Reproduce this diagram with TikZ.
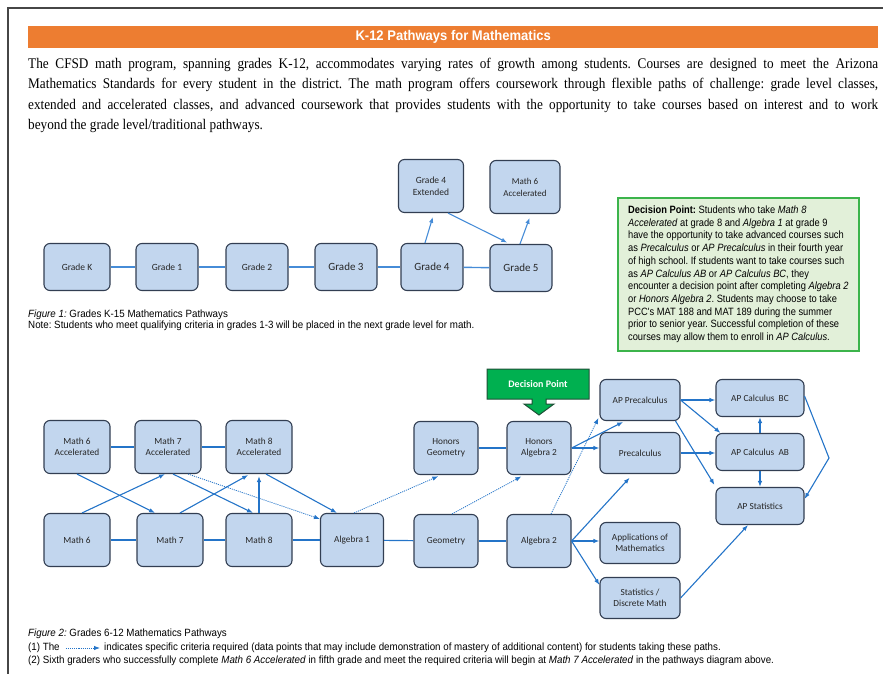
\documentclass[tikz,border=0pt]{standalone}
\usepackage{fontspec}
\setmainfont{Liberation Serif}[FakeStretch=0.9]
\newfontfamily\capfont{Liberation Sans}[FakeStretch=0.93]
\newfontfamily\narrowfont{Liberation Sans}[FakeStretch=0.88]
\newfontfamily\boxfont{Carlito}
\usetikzlibrary{arrows.meta, positioning, calc}
\definecolor{titleorange}{RGB}{237,125,49}
\definecolor{boxblue}{RGB}{194,214,238}
\definecolor{boxline}{RGB}{50,62,82}
\definecolor{lineblue}{RGB}{36,116,200}
\definecolor{lightline}{RGB}{70,140,215}
\definecolor{dpfill}{RGB}{226,240,217}
\definecolor{dpborder}{RGB}{60,180,75}
\definecolor{dpgreen}{RGB}{0,176,80}
\definecolor{dpdark}{RGB}{30,80,55}
\definecolor{framegray}{RGB}{70,70,70}
\frenchspacing

\begin{document}
\begin{tikzpicture}[
        x=1pt, y=-1pt,
        course/.style={rectangle, draw=boxline, line width=1.1pt, rounded corners=6pt, fill=boxblue, align=center, inner sep=1pt, text=black!85, font=\boxfont\fontsize{9.3}{10.8}\selectfont, minimum width=66pt, minimum height=53pt},
        gradebox/.style={course, minimum width=62pt, minimum height=47pt, font=\boxfont\fontsize{9.5}{12}\selectfont},
        bigger/.style={font=\boxfont\fontsize{11}{13}\selectfont},
        wide/.style={course, minimum width=80pt, minimum height=41pt},
        apbox/.style={course, minimum width=88pt, minimum height=37pt},
        link/.style={draw=lineblue, line width=1.2pt},
        lightlink/.style={draw=lightline, line width=1.4pt},
        arrow/.style={-{Latex[length=6pt,width=4.5pt]}, draw=lineblue, line width=1.1pt},
        dotarrow/.style={arrow, densely dotted, line width=0.8pt},
        decision/.style={rectangle, draw=dpborder, line width=1.6pt, fill=dpfill, align=left, minimum width=241pt, minimum height=153pt, inner xsep=4pt, inner ysep=4pt, font=\narrowfont\fontsize{10.6}{12.7}\selectfont},
        caption/.style={anchor=west, inner sep=0pt, font=\capfont\fontsize{10.5}{12}\selectfont}
        ]
        \useasboundingbox (0,0) rectangle (883,674);

        % Page frame, title and intro
        \draw[framegray, line width=1.5pt] (883,8) -- (8,8) -- (8,674);
        \node (titlebar) [rectangle, fill=titleorange, minimum width=850pt, minimum height=22pt, anchor=north west, text=white, font=\capfont\bfseries\fontsize{14}{16}\selectfont] at (28,26) {K-12 Pathways for Mathematics};
        \node (intro) [anchor=north west, inner sep=0pt, text width=850pt, align=justify, font=\fontsize{14.7}{20.4}\selectfont] at (28,58) {The CFSD math program, spanning grades K-12, accommodates varying rates of growth among students. Courses are designed to meet the Arizona\linebreak Mathematics Standards for every student in the district. The math program offers coursework through flexible paths of challenge: grade level classes,\linebreak extended and accelerated classes, and advanced coursework that provides students with the opportunity to take courses based on interest and to work\linebreak beyond the grade level/traditional pathways.};

        % Figure 1 nodes
        \node (gradeK) [gradebox, minimum width=66pt] at (77,267) {Grade K};
        \node (grade1) [gradebox] at (167,267) {Grade 1};
        \node (grade2) [gradebox] at (257,267) {Grade 2};
        \node (grade3) [gradebox, bigger] at (346,267) {Grade 3};
        \node (grade4) [gradebox, bigger] at (432,267) {Grade 4};
        \node (grade5) [gradebox, bigger] at (521,268) {Grade 5};
        \node (grade4ext) [gradebox, minimum width=65pt, minimum height=53pt] at (431,186) {Grade 4\\Extended};
        \node (math6top) [gradebox, minimum width=70pt, minimum height=53pt, font=\boxfont\fontsize{9}{12}\selectfont] at (525,187) {Math 6\\Accelerated};

        % Figure 1 links
        \draw [lightlink] (gradeK) -- (grade1);
        \draw [lightlink] (grade1) -- (grade2);
        \draw [lightlink] (grade2) -- (grade3);
        \draw [lightlink] (grade3) -- (grade4);
        \draw [lightlink] (grade4) -- (grade5);
        \draw [arrow, draw=lightline, shorten >=4pt] ($(grade4.north)+(-7,0)$) -- ($(grade4ext.south)+(3,0)$);
        \draw [arrow, draw=lightline, shorten >=3pt] ($(grade4ext.south)+(17,0)$) -- ($(grade5.north)+(-11,0)$);
        \draw [arrow, draw=lightline, shorten >=4pt] ($(grade5.north)+(-1,0)$) -- ($(math6top.south)+(6,0)$);

        \node (cap1) [caption] at (28,315) {\textit{Figure 1:} Grades K-15 Mathematics Pathways};
        \node (note1) [caption] at (28,326) {Note: Students who meet qualifying criteria in grades 1-3 will be placed in the next grade level for math.};

        % Decision point text
        \node (dptext) [decision, anchor=north west] at (617,197) {\textbf{Decision Point:} Students who take \textit{Math 8}\\
        \textit{Accelerated} at grade 8 and \textit{Algebra 1} at grade 9\\
        have the opportunity to take advanced courses such\\
        as \textit{Precalculus} or \textit{AP Precalculus} in their fourth year\\
        of high school. If students want to take courses such\\
        as \textit{AP Calculus AB} or \textit{AP Calculus BC}, they\\
        encounter a decision point after completing \textit{Algebra 2}\\
        or \textit{Honors Algebra 2}. Students may choose to take\\
        PCC's MAT 188 and MAT 189 during the summer\\
        prior to senior year. Successful completion of these\\
        courses may allow them to enroll in \textit{AP Calculus}.};

        % Figure 2 nodes
        \node (math6acc) [course] at (77,447) {Math 6\\Accelerated};
        \node (math7acc) [course] at (168,447) {Math 7\\Accelerated};
        \node (math8acc) [course] at (259,447) {Math 8\\Accelerated};
        \node (math6) [course] at (77,540) {Math 6};
        \node (math7) [course] at (170,540) {Math 7};
        \node (math8) [course] at (259,540) {Math 8};
        \node (algebra1) [course, minimum width=63pt] at (352,540) {Algebra 1};
        \node (geometry) [course, minimum width=64pt] at (446,541) {Geometry};
        \node (algebra2) [course, minimum width=64pt] at (539,541) {Algebra 2};
        \node (honorsgeo) [course, minimum width=64pt] at (446,448) {Honors\\Geometry};
        \node (honorsalg2) [course, minimum width=64pt] at (539,448) {Honors\\Algebra 2};
        \node (apprecalc) [wide] at (640,400) {AP Precalculus};
        \node (precalc) [wide] at (640,453) {Precalculus};
        \node (applied) [wide] at (640,543) {Applications of\\Mathematics};
        \node (statsdm) [wide] at (640,598) {Statistics /\\Discrete Math};
        \node (apcalcbc) [apbox] at (760,398) {AP Calculus~~BC};
        \node (apcalcab) [apbox] at (760,452) {AP Calculus~~AB};
        \node (apstats) [apbox] at (760,506) {AP Statistics};
        \coordinate (bend) at (829,458);

        % Decision point callout
        \draw [fill=dpgreen, draw=dpdark, line width=1pt] (487,369) -- (589,369) -- (589,399) -- (546,399) -- (546,404) -- (554,404) -- (539,415) -- (524,404) -- (532,404) -- (532,399) -- (487,399) -- cycle;
        \node (dplabel) [text=white, font=\boxfont\bfseries\fontsize{10}{12}\selectfont] at (538,384) {Decision Point};

        % Figure 2 links
        \draw [link] (math6acc) -- (math7acc);
        \draw [link] (math7acc) -- (math8acc);
        \draw [link] (math6) -- (math7);
        \draw [link] (math7) -- (math8);
        \draw [link] (math8) -- (algebra1);
        \draw [link] (algebra1) -- (geometry);
        \draw [link] (geometry) -- (algebra2);
        \draw [link] (honorsgeo) -- (honorsalg2);

        % Figure 2 arrows
        \draw [arrow] (math6acc.south) -- ($(math7.north)+(-15,0)$);
        \draw [arrow] ($(math6.north)+(5,0)$) -- ($(math7acc.south)+(-3,0)$);
        \draw [arrow] ($(math7acc.south)+(5,0)$) -- ($(math8.north)+(-6,0)$);
        \draw [arrow, shorten >=2pt] ($(math7.north)+(10,0)$) -- ($(math8acc.south)+(-9,0)$);
        \draw [arrow, shorten >=2pt] (math8.north) -- (math8acc.south);
        \draw [arrow] ($(math8acc.south)+(7,0)$) -- ($(algebra1.north)+(-15,0)$);
        \draw [dotarrow] ($(math7acc.south)+(20,0)$) -- ($(algebra1.north west)+(0,6)$);
        \draw [dotarrow, shorten >=3pt] ($(algebra1.north)+(2,0)$) -- ($(honorsgeo.south)+(-5,0)$);
        \draw [dotarrow, shorten >=3pt] ($(geometry.north)+(6,0)$) -- ($(honorsalg2.south)+(-15,0)$);
        \draw [dotarrow] ($(algebra2.north)+(12,0)$) -- ($(apprecalc.south west)+(-1,-3)$);
        \draw [arrow, shorten >=2pt] (honorsalg2.east) -- ($(apprecalc.south)+(-15,0)$);
        \draw [arrow] (honorsalg2.east) -- (precalc.west |- honorsalg2.east);
        \draw [arrow, shorten >=5pt] (algebra2.east) -- ($(precalc.south)+(-7,0)$);
        \draw [arrow] (algebra2.east) -- (applied.west |- algebra2.east);
        \draw [arrow] (algebra2.east) -- ($(statsdm.west)+(0,-13)$);
        \draw [arrow] (apprecalc.east) -- (apcalcbc.west |- apprecalc.east);
        \draw [arrow] (apprecalc.east) -- ($(apcalcab.north west)+(5,0)$);
        \draw [arrow] ($(apprecalc.south east)+(-5,0)$) -- ($(apstats.north west)+(-1,-2)$);
        \draw [arrow] (precalc.east) -- (apcalcab.west |- precalc.east);
        \draw [arrow] (apcalcab.north) -- (apcalcbc.south);
        \draw [arrow] (apcalcab.south) -- (apstats.north);
        \draw [arrow] ($(apcalcbc.east)+(0,-2)$) -- (bend) -- ($(apstats.east)+(0,-7)$);
        \draw [arrow] (statsdm.east) -- ($(apstats.south)+(-12,0)$);

        % Figure 2 captions
        \node (cap2) [caption] at (28,634) {\textit{Figure 2:} Grades 6-12 Mathematics Pathways};
        \node (legendA) [caption] at (28,648) {(1) The};
        \node (legendB) [caption] at (104,648) {indicates specific criteria required (data points that may include demonstration of mastery of additional content) for students taking these paths.};
        \draw [dotarrow] ($(legendA.east)+(6,0)$) -- ($(legendB.west)+(-4,0)$);
        \node (note2) [caption] at (28,661) {(2) Sixth graders who successfully complete \textit{Math 6 Accelerated} in fifth grade and meet the required criteria will begin at \textit{Math 7 Accelerated} in the pathways diagram above.};

    \end{tikzpicture}
\end{document}
